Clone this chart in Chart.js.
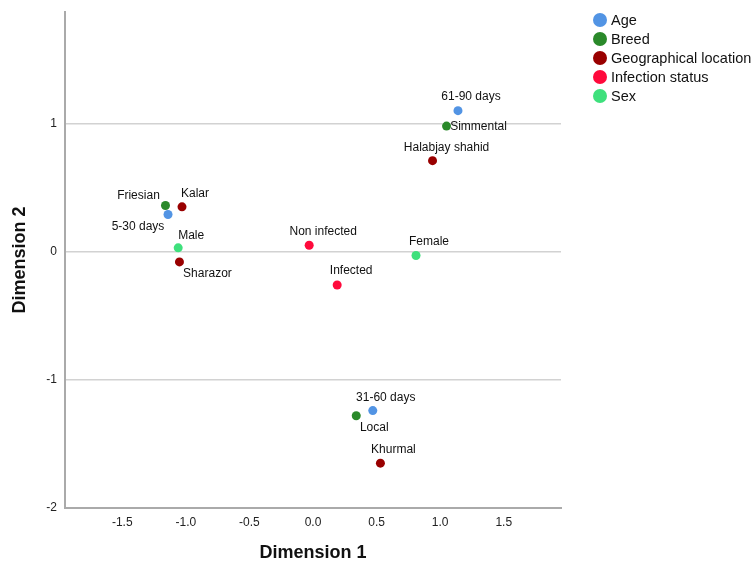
<!DOCTYPE html>
<html>
<head>
<meta charset="utf-8">
<script src="https://cdn.jsdelivr.net/npm/chart.js@4/dist/chart.umd.min.js"></script>
<style>
  body { margin: 0; background: #fff; }
</style>
</head>
<body>
<canvas id="jointPlot" width="755" height="564"></canvas>
<script>
// Joint plot of category points
const groupNames = ['Age', 'Breed', 'Geographical location', 'Infection status', 'Sex'];

const ageNames = ['5-30 days', '31-60 days', '61-90 days'];
const ageDim1 = [-1.14, 0.47, 1.14];
const ageDim2 = [0.29, -1.24, 1.10];

const breedNames = ['Friesian', 'Local', 'Simmental'];
const breedDim1 = [-1.16, 0.34, 1.05];
const breedDim2 = [0.36, -1.28, 0.98];

const locationNames = ['Halabjay shahid', 'Kalar', 'Sharazor', 'Khurmal'];
const locationDim1 = [0.94, -1.03, -1.05, 0.53];
const locationDim2 = [0.71, 0.35, -0.08, -1.65];

const infectionNames = ['Non infected', 'Infected'];
const infectionDim1 = [-0.03, 0.19];
const infectionDim2 = [0.05, -0.26];

const sexNames = ['Male', 'Female'];
const sexDim1 = [-1.06, 0.81];
const sexDim2 = [0.03, -0.03];

const xTicks = [-1.5, -1.0, -0.5, 0.0, 0.5, 1.0, 1.5];
const yTicks = [-2, -1, 0, 1];

// styling
const FONT = '"Liberation Sans", Arial, sans-serif';
const groupColors = ['#5294e4', '#2a892a', '#990000', '#ff0a3c', '#3ee07c'];

// where each point's caption sits relative to the point (text centre)
const labelOffsets = {
  '61-90 days': [13, -14],
  'Simmental': [32, 1],
  'Halabjay shahid': [14, -13],
  'Friesian': [-27, -10],
  'Kalar': [13, -13],
  '5-30 days': [-30, 12],
  'Male': [13, -12],
  'Sharazor': [28, 12],
  'Non infected': [14, -14],
  'Infected': [14, -14],
  'Female': [13, -14],
  '31-60 days': [13, -13],
  'Local': [18, 12],
  'Khurmal': [13, -13]
};

function toPoints(xs, ys) {
  return xs.map((x, i) => ({ x: x, y: ys[i] }));
}

const seriesData = [
  { names: ageNames, pts: toPoints(ageDim1, ageDim2) },
  { names: breedNames, pts: toPoints(breedDim1, breedDim2) },
  { names: locationNames, pts: toPoints(locationDim1, locationDim2) },
  { names: infectionNames, pts: toPoints(infectionDim1, infectionDim2) },
  { names: sexNames, pts: toPoints(sexDim1, sexDim2) }
];

// captions next to each point
const pointLabels = {
  id: 'pointLabels',
  afterDatasetsDraw(chart) {
    const ctx = chart.ctx;
    ctx.save();
    ctx.font = '12px ' + FONT;
    ctx.fillStyle = '#111';
    ctx.textAlign = 'center';
    ctx.textBaseline = 'middle';
    chart.data.datasets.forEach((ds, i) => {
      chart.getDatasetMeta(i).data.forEach((el, j) => {
        const name = ds.pointNames[j];
        const off = labelOffsets[name] || [13, -13];
        ctx.fillText(name, el.x + off[0], el.y + off[1]);
      });
    });
    ctx.restore();
  }
};

// legend in the top right corner, allowed to run off the canvas edge
const sideLegend = {
  id: 'sideLegend',
  afterDraw(chart) {
    const ctx = chart.ctx;
    ctx.save();
    ctx.font = '14.5px ' + FONT;
    ctx.textAlign = 'left';
    ctx.textBaseline = 'middle';
    chart.data.datasets.forEach((ds, i) => {
      const y = 20 + i * 19;
      ctx.beginPath();
      ctx.arc(600, y, 7, 0, Math.PI * 2);
      ctx.fillStyle = ds.backgroundColor;
      ctx.fill();
      ctx.fillStyle = '#111';
      ctx.fillText(ds.label, 611, y + 1);
    });
    ctx.restore();
  }
};

new Chart(document.getElementById('jointPlot'), {
  type: 'scatter',
  data: {
    datasets: seriesData.map((s, i) => ({
      label: groupNames[i],
      data: s.pts,
      pointNames: s.names,
      backgroundColor: groupColors[i],
      borderWidth: 0,
      pointRadius: 4.5,
      pointHoverRadius: 4.5
    }))
  },
  options: {
    responsive: false,
    animation: false,
    events: [],
    layout: {
      padding: { top: 12, right: 194, bottom: 0, left: 0 }
    },
    plugins: {
      legend: { display: false },
      tooltip: { enabled: false }
    },
    scales: {
      x: {
        type: 'linear',
        min: -1.95,
        max: 1.95,
        afterBuildTicks(scale) {
          scale.ticks = xTicks.map(v => ({ value: v }));
        },
        afterFit(scale) {
          scale.height = 56;
          scale.paddingLeft = 0;
          scale.paddingRight = 0;
        },
        grid: { display: false, drawTicks: false },
        border: { display: true, color: '#aaaaaa', width: 2 },
        ticks: {
          padding: 7,
          color: '#222',
          font: { family: FONT, size: 12 },
          callback: v => v.toFixed(1)
        },
        title: {
          display: true,
          text: 'Dimension 1',
          color: '#111',
          font: { family: FONT, size: 18, weight: 'bold' },
          padding: { top: 0, bottom: 0 }
        }
      },
      y: {
        type: 'linear',
        min: -2,
        max: 1.87,
        afterBuildTicks(scale) {
          scale.ticks = yTicks.map(v => ({ value: v }));
        },
        afterFit(scale) {
          scale.width = 65;
          scale.paddingTop = 0;
          scale.paddingBottom = 0;
        },
        grid: {
          drawTicks: false,
          lineWidth: 1.5,
          color: c => (c.tick && c.tick.value === -2) ? 'rgba(0,0,0,0)' : '#d2d2d2'
        },
        border: { display: true, color: '#aaaaaa', width: 2 },
        ticks: {
          padding: 8,
          color: '#222',
          font: { family: FONT, size: 12 },
          callback: v => String(v)
        },
        title: {
          display: true,
          text: 'Dimension 2',
          color: '#111',
          font: { family: FONT, size: 18, weight: 'bold' },
          padding: { top: 9, bottom: 0 }
        }
      }
    }
  },
  plugins: [pointLabels, sideLegend]
});
</script>
</body>
</html>
